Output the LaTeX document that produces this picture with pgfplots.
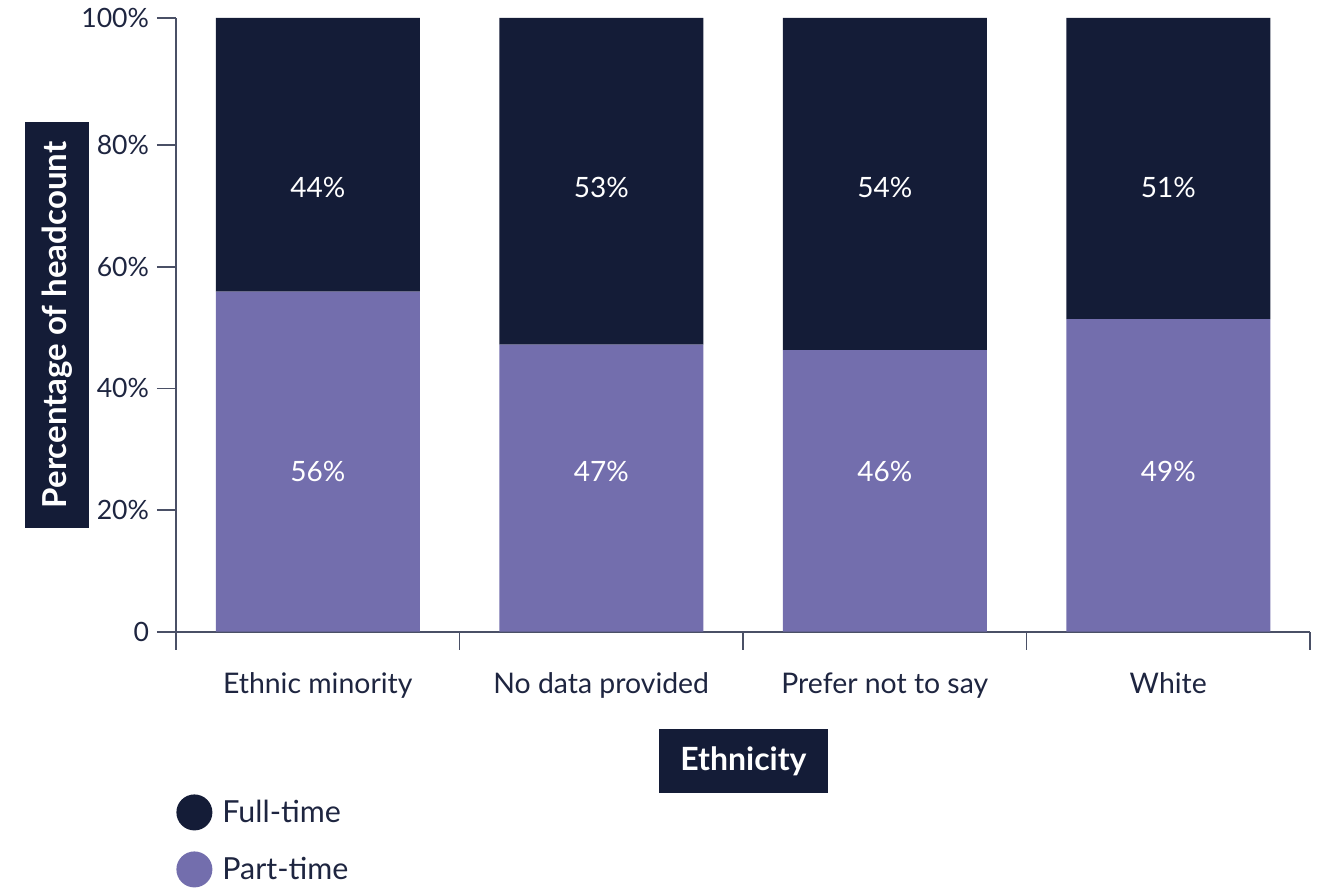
\documentclass[border=0pt]{standalone}
\usepackage{pgfplots}
\pgfplotsset{compat=1.18}
\usepackage{fontspec}
\setmainfont{Lato}
\definecolor{navy}{HTML}{141C37}
\definecolor{purp}{HTML}{736EAD}
\definecolor{axc}{HTML}{4A5066}
\definecolor{txt}{HTML}{1E2540}
\begin{document}
\begin{tikzpicture}
\path[use as bounding box] (0pt,0pt) rectangle (663pt,444.5pt);
\begin{axis}[
  at={(88pt,128.65pt)}, anchor=south west,
  scale only axis, width=567pt, height=306.85pt,
  xmin=-0.5, xmax=3.5, ymin=0, ymax=100.9,
  clip=false,
  axis lines*=left,
  axis line style={axc, line width=0.8pt},
  ybar stacked, bar width=102pt,
  xtick={0,1,2,3},
  xticklabels={Ethnic minority,No data provided,Prefer not to say,White},
  xticklabel style={yshift=-7.5pt, font=\fontsize{14.2}{16}\selectfont},
  major x tick style={draw=none},
  minor xtick={-0.5,0.5,1.5,2.5,3.5},
  minor tick length=9pt,
  minor x tick style={axc, line width=0.8pt},
  ytick={0,20,40,60,80,100.9},
  yticklabels={0,20\%,40\%,60\%,80\%,100\%},
  yticklabel style={font=\fontsize{13.3}{15}\selectfont, xshift=-0.5pt},
  major tick length=9.5pt,
  ytick style={axc, line width=0.8pt},
  tick align=outside,
  ticklabel style={text=txt},
  /pgf/number format/assume math mode=true,
  reverse legend,
  legend cell align=left,
  legend style={draw=none, fill=none, at={(0,-0.2645)}, anchor=north west,
    inner sep=0pt, row sep=10.5pt, font=\fontsize{15.2}{17}\selectfont,
    text=txt, nodes={inner sep=2pt}},
  legend image code/.code={\fill[#1] (9pt,0pt) circle (9pt); \path (21pt,0pt);},
]
\addplot[fill=purp, draw=none] coordinates {(0,55.9) (1,47.2) (2,46.3) (3,51.4)};
\addlegendentry{Part-time}
\addplot[fill=navy, draw=none] coordinates {(0,45.0) (1,53.7) (2,54.6) (3,49.5)};
\addlegendentry{Full-time}
\end{axis}
\begin{axis}[
  at={(88pt,128.65pt)}, anchor=south west,
  scale only axis, width=567pt, height=306.85pt,
  xmin=-0.5, xmax=3.5, ymin=0, ymax=100.9,
  hide axis, clip=false,
]
\node[text=white, font=\fontsize{14}{16}\selectfont] at (axis cs:0,26.3) {56\%};
\node[text=white, font=\fontsize{14}{16}\selectfont] at (axis cs:1,26.3) {47\%};
\node[text=white, font=\fontsize{14}{16}\selectfont] at (axis cs:2,26.3) {46\%};
\node[text=white, font=\fontsize{14}{16}\selectfont] at (axis cs:3,26.3) {49\%};
\node[text=white, font=\fontsize{14}{16}\selectfont] at (axis cs:0,73.0) {44\%};
\node[text=white, font=\fontsize{14}{16}\selectfont] at (axis cs:1,73.0) {53\%};
\node[text=white, font=\fontsize{14}{16}\selectfont] at (axis cs:2,73.0) {54\%};
\node[text=white, font=\fontsize{14}{16}\selectfont] at (axis cs:3,73.0) {51\%};
\end{axis}
\node[fill=navy, text=white, font=\bfseries\fontsize{16.5}{18}\selectfont, rotate=90,
  minimum width=203pt, minimum height=32pt, inner sep=0pt] at (28.5pt,282pt) {Percentage of headcount};
\node[fill=navy, text=white, font=\bfseries\fontsize{16}{18}\selectfont,
  minimum width=84.5pt, minimum height=32pt, inner sep=0pt] at (371.75pt,64pt) {Ethnicity};
\end{tikzpicture}
\end{document}
